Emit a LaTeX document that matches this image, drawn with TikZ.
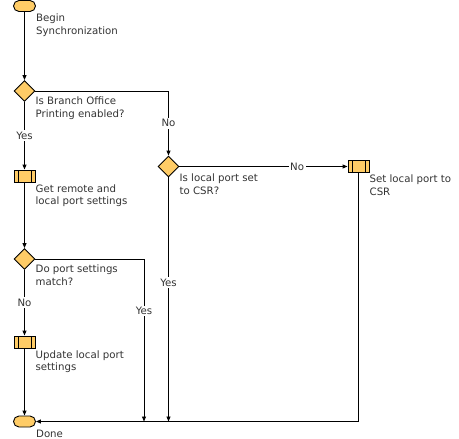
\documentclass[tikz,border=0pt]{standalone}
\usepackage{fontspec}
\setmainfont{DejaVu Sans}
\usetikzlibrary{shapes.geometric, arrows.meta, positioning}
\definecolor{shapefill}{HTML}{FFCC66}
\definecolor{labelgray}{HTML}{333333}
\tikzset{
  % Flowchart shapes
  terminal/.style={rectangle, rounded corners=5.5pt, minimum width=22pt, minimum height=11pt, inner sep=0pt, draw=black, fill=shapefill, line width=0.9pt},
  decision/.style={diamond, minimum width=21pt, minimum height=21pt, inner sep=0pt, draw=black, fill=shapefill, line width=0.9pt},
  predef/.style={rectangle, minimum width=21pt, minimum height=12pt, inner sep=0pt, draw=black, fill=shapefill, line width=0.9pt,
    path picture={
      \draw[line width=0.9pt] ([xshift=4pt]path picture bounding box.north west) -- ([xshift=4pt]path picture bounding box.south west);
      \draw[line width=0.9pt] ([xshift=-4pt]path picture bounding box.north east) -- ([xshift=-4pt]path picture bounding box.south east);
    }},
  % Texts
  note/.style={inner sep=0pt, align=left, font=\fontsize{10.2}{12.5}\selectfont, text=labelgray},
  branch/.style={fill=white, inner sep=1.5pt, font=\fontsize{10.2}{11}\selectfont, text=labelgray},
  % Connectors
  arrow/.style={-{Triangle[length=5pt,width=4pt]}, line width=0.9pt},
}
\begin{document}
\begin{tikzpicture}[x=1pt, y=-1pt]
    \useasboundingbox (0,0) rectangle (459,439);

    % Start
    \node[terminal] (start) at (24.5,6) {};
    \node[note, below right=2pt and 0pt of start.south east] (startlbl) {Begin\\Synchronization};

    % Branch office printing?
    \node[decision] (bop) at (24.5,91) {};
    \node[note, below right=6pt and 0pt of bop.east] (boplbl) {Is Branch Office\\Printing enabled?};

    % Get settings
    \node[predef] (getset) at (24.5,176) {};
    \node[note, below right=2pt and 0pt of getset.south east] (getsetlbl) {Get remote and\\local port settings};

    % Settings match?
    \node[decision] (match) at (24.5,259) {};
    \node[note, below right=6pt and 0pt of match.east] (matchlbl) {Do port settings\\match?};

    % Update
    \node[predef] (update) at (24.5,342) {};
    \node[note, below right=2pt and 0pt of update.south east] (updatelbl) {Update local port\\settings};

    % Done
    \node[terminal] (done) at (24.5,421.5) {};
    \node[note, below right=2pt and 0pt of done.south east] (donelbl) {Done};

    % Local port CSR?
    \node[decision] (iscsr) at (168.5,166.5) {};
    \node[note, below right=7.5pt and 0pt of iscsr.east] (iscsrlbl) {Is local port set\\to CSR?};

    % Set CSR
    \node[predef] (setcsr) at (358.5,166.5) {};
    \node[note, below right=2pt and 0pt of setcsr.south east] (setcsrlbl) {Set local port to\\CSR};

    \coordinate (mergeA) at (144,421.5);

% === Arrows ===
    \draw[arrow] (start) -- (bop);
    \draw[arrow] (bop) -- node[branch] {Yes} (getset);
    \draw[arrow] (bop.east) -| node[branch, pos=0.75] {No} (iscsr.north);
    \draw[arrow] (getset) -- (match);
    \draw[arrow] (match) -- node[branch] {No} (update);
    \draw[arrow] (match.east) -| node[branch, pos=0.66] {Yes} (mergeA);
    \draw[arrow] (update) -- (done);
    \draw[arrow] (iscsr) -- node[branch, pos=0.7] {No} (setcsr);
    \draw[arrow] (iscsr.south) -- node[branch, pos=0.43] {Yes} (iscsr.south |- done.east);
    \draw[arrow] (setcsr.south) |- (done.east);
\end{tikzpicture}
\end{document}
